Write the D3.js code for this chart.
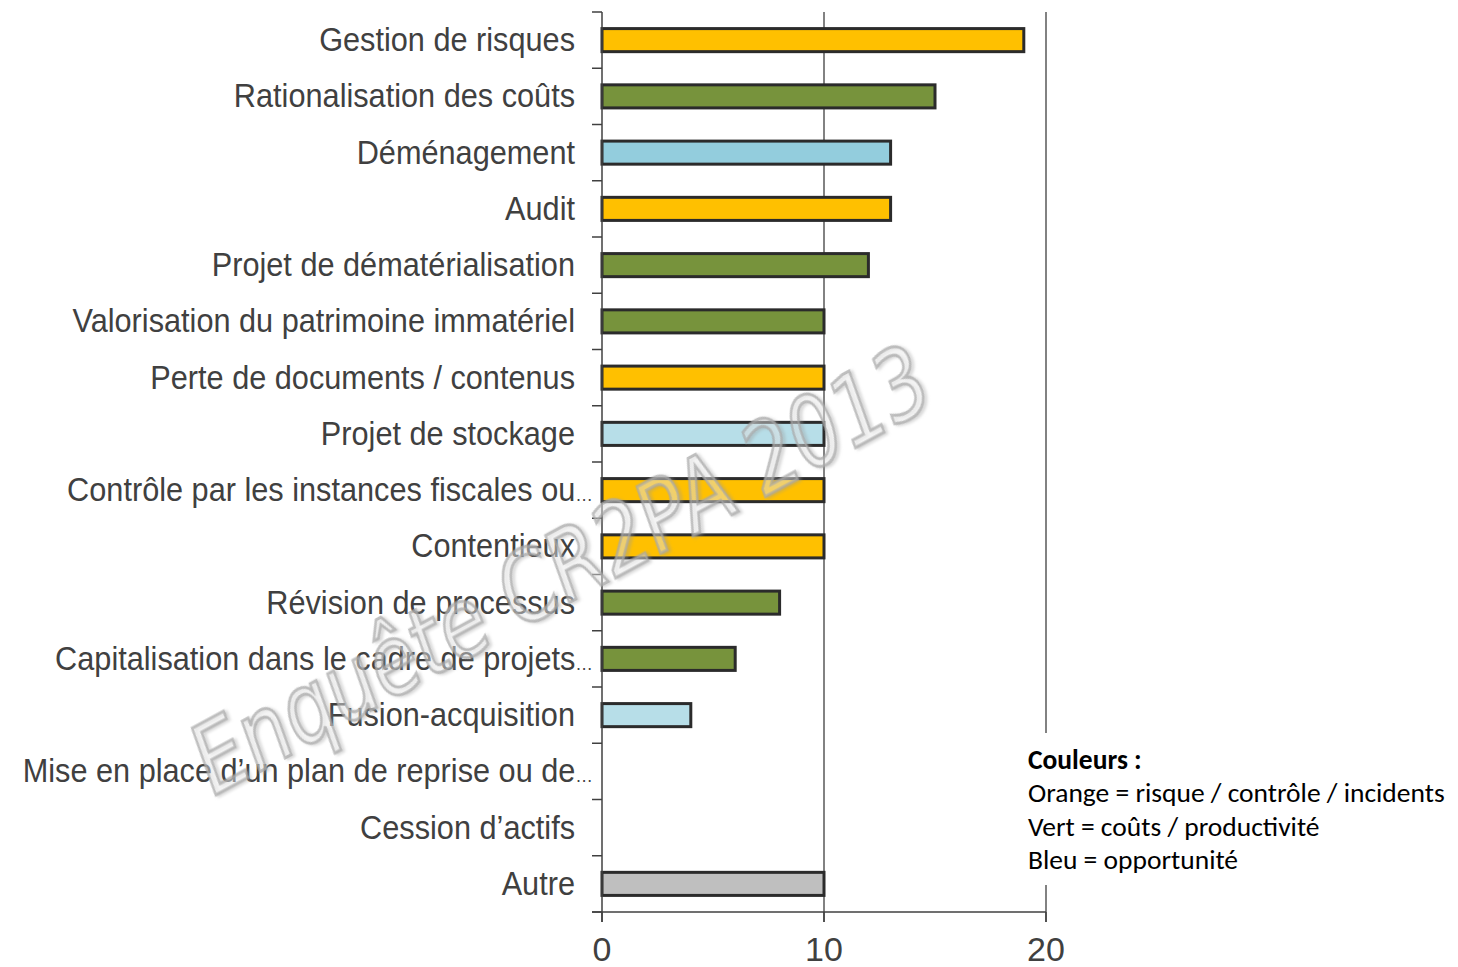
<!DOCTYPE html>
<html>
<head>
<meta charset="utf-8">
<script src="https://cdn.jsdelivr.net/npm/d3@7"></script>
<style>
  body { margin: 0; background: #fff; }
  svg { display: block; }
</style>
</head>
<body>
<div id="chart"></div>
<script>
const categories = [
  'Gestion de risques',
  'Rationalisation des coûts',
  'Déménagement',
  'Audit',
  'Projet de dématérialisation',
  'Valorisation du patrimoine immatériel',
  'Perte de documents / contenus',
  'Projet de stockage',
  'Contrôle par les instances fiscales ou…',
  'Contentieux',
  'Révision de processus',
  'Capitalisation  dans le cadre de projets…',
  'Fusion-acquisition',
  'Mise en place d’un plan de reprise ou de…',
  'Cession d’actifs',
  'Autre'
];
const values = [19, 15, 13, 13, 12, 10, 10, 10, 10, 10, 8, 6, 4, 0, 0, 10];
const groups = ['risque', 'cout', 'opp', 'risque', 'cout', 'cout', 'risque', 'opp2',
  'risque', 'risque', 'cout', 'cout', 'opp2', 'risque', 'cout', 'autre'];
const xTicks = [0, 10, 20];
const legendLines = [
  'Orange = risque / contrôle / incidents',
  'Vert = coûts / productivité',
  'Bleu = opportunité'
];

const colors = {
  risque: '#FFC000',
  cout: '#77933C',
  opp: '#93CDDD',
  opp2: '#B7DEE8',
  autre: '#BFBFBF'
};

const width = 1458, height = 967;
const svg = d3.select('#chart').append('svg').attr('width', width).attr('height', height);

const x = d3.scaleLinear().domain([0, 20]).range([602, 1046]);
const y = d3.scaleBand().domain(categories).range([12, 912]).padding(0);
const barH = y.bandwidth() * 0.41;

// gridlines
svg.selectAll('.grid').data(xTicks.slice(1)).enter().append('line')
  .attr('x1', (d) => x(d)).attr('x2', (d) => x(d))
  .attr('y1', 12).attr('y2', 922)
  .attr('stroke', '#595959').attr('stroke-width', 1.5);

// bars
svg.selectAll('.bar').data(categories).enter().append('rect')
  .attr('x', x(0))
  .attr('y', (d) => y(d) + (y.bandwidth() - barH) / 2)
  .attr('width', (d, i) => x(values[i]) - x(0))
  .attr('height', barH)
  .attr('fill', (d, i) => colors[groups[i]])
  .attr('stroke', (d, i) => values[i] > 0 ? '#2b2b2b' : 'none')
  .attr('stroke-width', 3);

// left axis
svg.append('line').attr('x1', 602).attr('x2', 602).attr('y1', 12).attr('y2', 922)
  .attr('stroke', '#404040').attr('stroke-width', 1.5);
const bounds = categories.map((c) => y(c)).concat([912]);
svg.selectAll('.ytick').data(bounds).enter().append('line')
  .attr('x1', 592).attr('x2', 602)
  .attr('y1', (d) => d).attr('y2', (d) => d)
  .attr('stroke', '#404040').attr('stroke-width', 1.5);

// bottom axis
svg.append('line').attr('x1', 592).attr('x2', x(20)).attr('y1', 912).attr('y2', 912)
  .attr('stroke', '#404040').attr('stroke-width', 1.5);
svg.selectAll('.xtick').data(xTicks).enter().append('line')
  .attr('x1', (d) => x(d)).attr('x2', (d) => x(d))
  .attr('y1', 912).attr('y2', 922)
  .attr('stroke', '#404040').attr('stroke-width', 1.5);
svg.selectAll('.xlab').data(xTicks).enter().append('text')
  .attr('x', (d) => x(d)).attr('y', 961)
  .attr('text-anchor', 'middle')
  .attr('font-family', 'Liberation Sans, Arial, sans-serif')
  .attr('font-size', 34)
  .attr('fill', '#404040')
  .text((d) => d);

// category labels (slightly condensed, narrow ellipsis like Excel)
const labels = svg.selectAll('.ylab').data(categories).enter().append('text')
  .attr('transform', (d) => `translate(${d.endsWith('…') ? 593 : 575},${y(d) + y.bandwidth() / 2 + 11}) scale(0.93,1)`)
  .attr('text-anchor', 'end')
  .attr('font-family', 'Liberation Sans, Arial, sans-serif')
  .attr('font-size', 33)
  .attr('fill', '#404040');
labels.each(function(d) {
  const t = d3.select(this);
  if (d.endsWith('…')) {
    t.append('tspan').text(d.slice(0, -1));
    t.append('tspan').attr('font-size', 19).text('…');
  } else {
    t.text(d);
  }
});

// legend box
svg.append('rect').attr('x', 1016).attr('y', 733).attr('width', 442).attr('height', 152).attr('fill', '#fff');
const leg = svg.append('g').attr('font-family', 'Carlito, Lato, sans-serif').attr('font-size', 27.5).attr('fill', '#000');
leg.append('text').attr('x', 1028).attr('y', 769).attr('font-weight', 'bold').text('Couleurs :');
leg.selectAll('.ll').data(legendLines).enter().append('text')
  .attr('x', 1028).attr('y', (d, i) => 802 + i * 33.5)
  .text((d) => d);

// watermark
const defs = svg.append('defs');
const f = defs.append('filter').attr('id', 'wmShadow').attr('x', '-10%').attr('y', '-10%').attr('width', '120%').attr('height', '120%');
f.append('feDropShadow').attr('dx', 2).attr('dy', 2).attr('stdDeviation', 1.5)
  .attr('flood-color', '#999').attr('flood-opacity', 0.6);

svg.append('text')
  .attr('transform', 'translate(214,796) rotate(-28.5)')
  .attr('font-family', 'DejaVu Sans, sans-serif')
  .attr('font-style', 'italic')
  .attr('font-size', 96)
  .attr('fill', '#ffffff').attr('fill-opacity', 0.3)
  .attr('stroke', '#a8a8a8').attr('stroke-width', 3).attr('stroke-opacity', 0.7)
  .attr('filter', 'url(#wmShadow)')
  .attr('textLength', 825)
  .attr('lengthAdjust', 'spacingAndGlyphs')
  .text('Enquête CR2PA 2013');
</script>
</body>
</html>
